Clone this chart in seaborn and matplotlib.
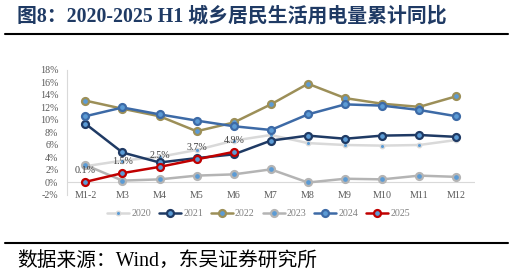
import numpy as np
import pandas as pd
import matplotlib
matplotlib.use("Agg")
import matplotlib.pyplot as plt
from matplotlib.lines import Line2D
import seaborn as sns

# data (%)
months = ["M1-2", "M3", "M4", "M5", "M6", "M7", "M8", "M9", "M10", "M11", "M12"]
y2020 = [2.6, 3.5, 4.1, 5.2, 6.7, 7.6, 6.3, 6.0, 5.9, 6.0, 6.8]
y2021 = [9.4, 4.8, 3.2, 3.9, 4.5, 6.7, 7.5, 7.0, 7.5, 7.6, 7.3]
y2022 = [13.1, 11.8, 10.6, 8.2, 9.6, 12.5, 15.8, 13.5, 12.6, 12.1, 13.8]
y2023 = [2.8, 0.3, 0.5, 1.1, 1.3, 2.1, 0.0, 0.6, 0.5, 1.1, 0.9]
y2024 = [10.6, 12.0, 10.9, 9.9, 9.0, 8.4, 10.9, 12.5, 12.3, 11.6, 10.6]
y2025 = [0.1, 1.5, 2.5, 3.7, 4.9]
years = ["2020", "2021", "2022", "2023", "2024", "2025"]
series = [y2020, y2021, y2022, y2023, y2024, y2025]
yticks = [-2, 0, 2, 4, 6, 8, 10, 12, 14, 16, 18]

colors = ["#D9D9D9", "#1F3A64", "#9C8F58", "#B4B4B4", "#3D6AA6", "#C00000"]
dot = "#5B9BD5"

rows = []
for yr, vals in zip(years, series):
    for i, v in enumerate(vals):
        rows.append({"year": yr, "pos": i, "month": months[i], "val": v})
df = pd.DataFrame(rows)

sns.set_theme(style="white")
plt.rcParams["font.family"] = ["Liberation Serif", "Noto Sans CJK SC"]

fig = plt.figure(figsize=(5.14, 2.76), dpi=100)
ax = fig.add_axes([0.130, 0.2935, 0.794, 0.4529])


def marker_style(yr, c):
    if yr == "2020":
        return dict(marker="o", markersize=3.2, markerfacecolor=dot,
                    markeredgecolor=c, markeredgewidth=1.0)
    return dict(marker="o", markersize=5, markerfacecolor=dot,
                markeredgecolor=c, markeredgewidth=1.6)


for yr, c in zip(years, colors):
    sub = df[df["year"] == yr]
    sns.lineplot(data=sub, x="pos", y="val", ax=ax, color=c, lw=1.8,
                 sort=False, **marker_style(yr, c))

# data labels for 2025
for i, v in enumerate(y2025):
    ax.annotate(f"{v:.1f}%", (i, v), xytext=(0, 5), textcoords="offset points",
                ha="center", va="bottom", fontsize=7.2, color="#404040")

ax.axhline(0, color="#D9D9D9", lw=0.8, zorder=0)
ax.set_xlim(-0.5, len(months) - 0.5)
ax.set_ylim(-2, 18)
ax.set_yticks(yticks)
ax.set_yticklabels([f"{t}%" for t in yticks])
ax.set_xticks(range(len(months)))
ax.set_xticklabels(months)
ax.tick_params(axis="both", labelsize=7.2, colors="#595959", length=0)
ax.tick_params(axis="y", pad=6)
ax.tick_params(axis="x", pad=-3)
ax.set_xlabel("")
ax.set_ylabel("")
for s in ["top", "right", "bottom"]:
    ax.spines[s].set_visible(False)
ax.spines["left"].set_color("#D9D9D9")
ax.spines["left"].set_linewidth(0.8)

handles = []
for yr, c in zip(years, colors):
    handles.append(Line2D([], [], color=c, lw=1.8, **marker_style(yr, c)))
fig.legend(handles, years, loc="center", bbox_to_anchor=(0.503, 0.225), ncol=6,
           frameon=False, fontsize=7.2, labelcolor="#808080", handlelength=2.2,
           handletextpad=0.2, columnspacing=0.8)

fig.text(0.033, 0.94, "图8：2020-2025 H1 城乡居民生活用电量累计同比", fontsize=14.3,
         fontweight="bold", color="#1F3A64", va="center", ha="left")
fig.add_artist(Line2D([0.01, 0.988], [0.877, 0.877], color="black", lw=1.5,
                      transform=fig.transFigure))
fig.add_artist(Line2D([0.01, 0.988], [0.12, 0.12], color="black", lw=1.5,
                      transform=fig.transFigure))
fig.text(0.033, 0.052, "数据来源：Wind，东吴证券研究所", fontsize=14.2,
         color="black", va="center", ha="left")

fig.savefig("out.png", dpi=100)
